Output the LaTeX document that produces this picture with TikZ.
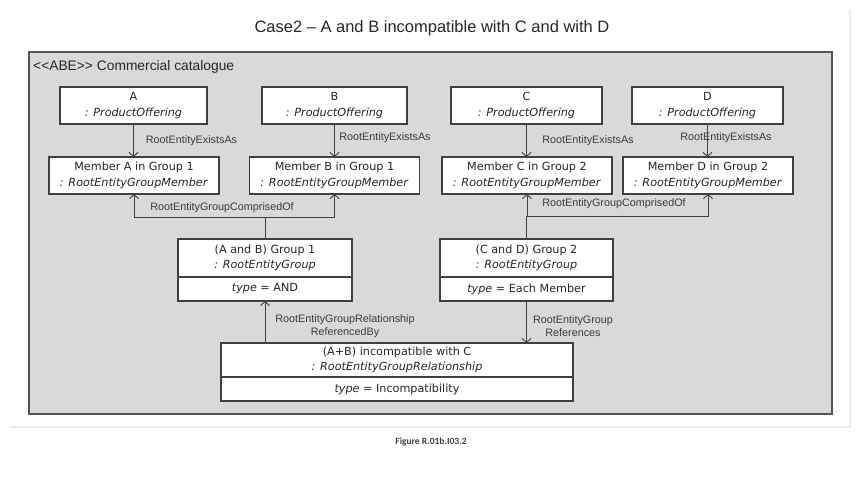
\documentclass[tikz,border=0pt]{standalone}
\usepackage{fontspec}
\setmainfont{Liberation Sans}
\newfontfamily\boxfont{DejaVu Sans}
\newfontfamily\capfont{Carlito}
\usetikzlibrary{arrows.meta,positioning}
\definecolor{pkgfill}{HTML}{D9D9D9}
\definecolor{pkgline}{HTML}{555555}
\definecolor{boxline}{HTML}{404040}
\definecolor{lbltext}{HTML}{3A3A3A}
\tikzset{
  objbox/.style={draw=boxline, line width=1.1pt, fill=white, align=center, inner sep=0pt, outer sep=0pt,
    font=\boxfont\fontsize{11.2}{15.5}\selectfont, text=black!85},
  lbl/.style={font=\fontsize{10.8}{13.5}\selectfont, text=lbltext, align=center, inner sep=0pt},
  link/.style={draw=boxline, line width=0.9pt},
  navarrow/.style={link, -{Straight Barb[length=4pt,width=9pt]}},
  pkgbox/.style={draw=pkgline, line width=1.6pt, fill=pkgfill, inner sep=0pt, outer sep=0pt}
}
\begin{document}
\begin{tikzpicture}[x=1pt,y=-1pt]
        \useasboundingbox (0,0) rectangle (863,484);
        % Faint page frame
        \draw[line width=2pt, black!8] (10,427) -- (850,427) -- (850,10);

        % Draw title
        \node[font=\fontsize{16.5}{19}\selectfont, text=black!85] (title) at (432,28) {Case2 – A and B incompatible with C and with D};

        % Draw package
        \node[pkgbox, anchor=north west, minimum width=803pt, minimum height=362pt] (pkg) at (29,52) {};
        \node[font=\fontsize{13.8}{15}\selectfont, text=black!85, anchor=west, inner sep=0pt] (pkgname) at (33,67) {<\kern0pt<ABE>\kern0pt> Commercial catalogue};

        % Product offerings
        \foreach \n/\x/\w in {A/133.5/147, B/334.5/145, C/526.5/151, D/707.5/151}
            \node[objbox, minimum width=\w, minimum height=37] (\n) at (\x,105.5) {\n\\\textit{: ProductOffering}};

        % Group members
        \foreach \n/\t/\x/\g in {MA/A/134/1, MB/B/334.5/1, MC/C/527/2, MD/D/708/2}
            \node[objbox, minimum width=170, minimum height=37] (\n) at (\x,175.5) {Member \t\ in Group \g\\\textit{: RootEntityGroupMember}};

        % ExistsAs links
        \node[lbl] (exA) at (191.5,141) {RootEntityExistsAs};
        \node[lbl] (exB) at (385,138) {RootEntityExistsAs};
        \node[lbl] (exC) at (588,141) {RootEntityExistsAs};
        \node[lbl] (exD) at (726,138) {RootEntityExistsAs};
        \foreach \n/\m in {A/MA,B/MB,C/MC,D/MD}
            \draw[navarrow] (\n.south) -- (\n.south |- \m.north);

        % Groups
        \node[objbox, minimum width=174, minimum height=38] (G1) at (265,258) {(A and B) Group 1\\\textit{: RootEntityGroup}};
        \node[objbox, minimum width=174, minimum height=24, below=0pt of G1] (G1type) {\textit{type} = AND};
        \node[objbox, minimum width=173, minimum height=38] (G2) at (526.5,258) {(C and D) Group 2\\\textit{: RootEntityGroup}};
        \node[objbox, minimum width=173, minimum height=24, below=0pt of G2] (G2type) {\textit{type} = Each Member};

        % Relationship
        \node[objbox, minimum width=352, minimum height=34] (R) at (397,360) {(A+B) incompatible with C\\\textit{: RootEntityGroupRelationship}};
        \node[objbox, minimum width=352, minimum height=24, below=0pt of R] (Rtype) {\textit{type} = Incompatibility};

        % ComprisedOf links
        \coordinate (jAB) at (265,217);
        \coordinate (jCD) at (526.5,216);
        \draw[link] (G1.north) -- (jAB);
        \draw[link] (G2.north) -- (jCD);
        \foreach \j/\m in {jAB/MA, jAB/MB, jCD/MC, jCD/MD}
            \draw[navarrow] (\j) -| (\m.south);
        \node[lbl] (coAB) at (222,208) {RootEntityGroupComprisedOf};
        \node[lbl] (coCD) at (614,204) {RootEntityGroupComprisedOf};

        % Relationship links
        \draw[navarrow] (G1type.south |- R.north) -- (G1type.south);
        \draw[navarrow] (G2type.south) -- (G2type.south |- R.north);
        \node[lbl] (refby) at (345,326) {RootEntityGroupRelationship\\ReferencedBy};
        \node[lbl] (refs) at (573,326) {RootEntityGroup\\References};

        % Caption
        \node[font=\capfont\bfseries\fontsize{9.5}{11}\selectfont, text=black!75] (caption) at (431,442) {Figure R.01b.I03.2};
    \end{tikzpicture}
\end{document}
